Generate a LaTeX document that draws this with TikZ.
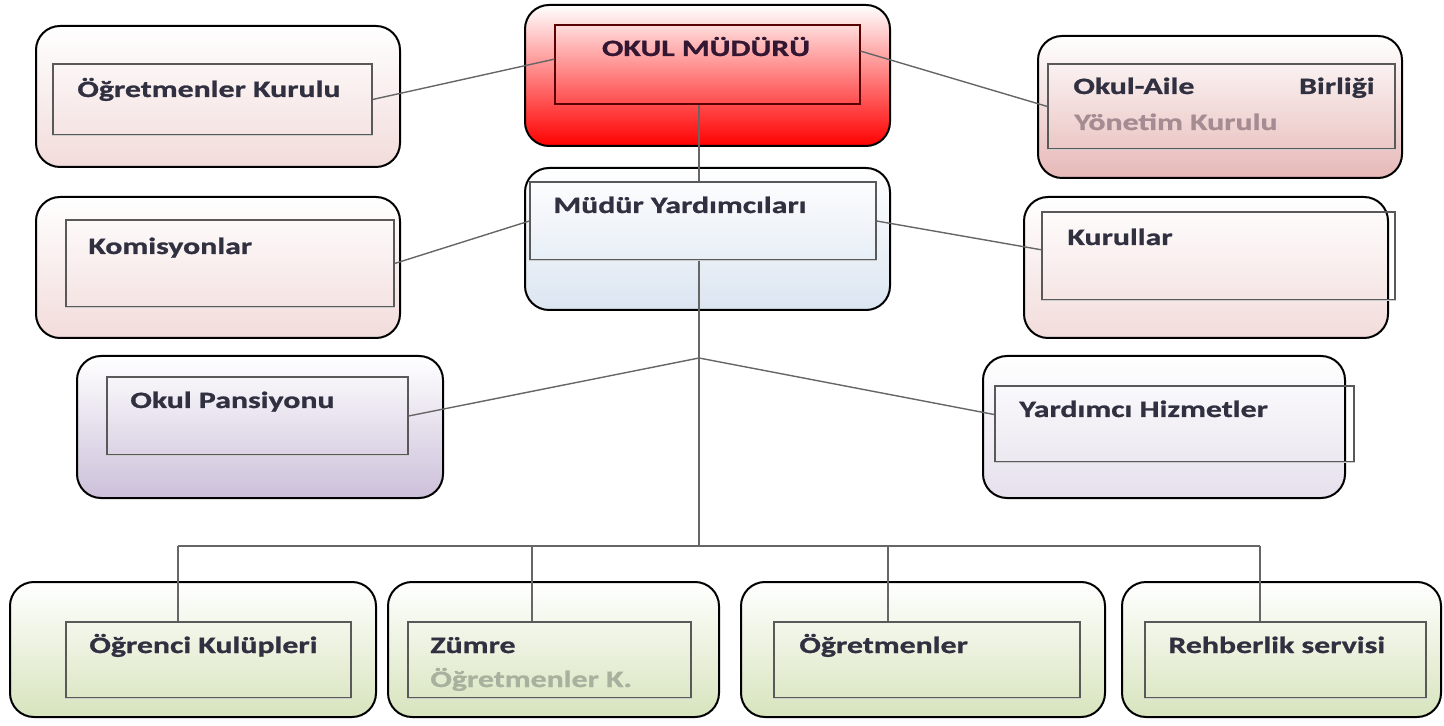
\documentclass[tikz,border=0pt]{standalone}
\usepackage{fontspec}
\newfontfamily\boxfont{Carlito}[FakeStretch=1.36,BoldFeatures={FakeBold=1}]
\usepackage{tikz}
\usepackage{xcolor}
\definecolor{txt}{RGB}{48,48,64}
\definecolor{txtred}{RGB}{50,22,50}
\definecolor{grayred}{RGB}{165,140,146}
\definecolor{graygreen}{RGB}{168,176,158}
\definecolor{pinkb}{RGB}{242,220,219}
\definecolor{roseb}{RGB}{230,185,184}
\definecolor{blueb}{RGB}{219,229,241}
\definecolor{purpb}{RGB}{204,192,218}
\definecolor{lilab}{RGB}{229,224,236}
\definecolor{greenb}{RGB}{215,228,189}

\tikzset{
	outbox/.style={draw=black,line width=1pt,rounded corners=12pt,inner sep=0pt,top color=white},
	inbox/.style={draw=black!65,line width=0.6pt,inner sep=0pt},
	lab/.style={inner sep=0pt,anchor=base west,text=txt,font=\boxfont\bfseries\fontsize{11.7}{14}\selectfont},
	conn/.style={draw=black!60,line width=0.7pt}
}

\begin{document}
\begin{tikzpicture}[x=0.5pt,y=-0.5pt]
		
		\useasboundingbox (0,0) rectangle (1444,726);
		
		% top row
		\node[outbox,bottom color=pinkb,minimum width=182pt,minimum height=70.5pt] (ogk) at (218,96.5) {};
		\node[inbox,minimum width=159.5pt,minimum height=35.5pt] (ogk-in) at (212.5,99.5) {};
		\node[lab] (ogktxt) at (77,97) {Öğretmenler Kurulu};
		
		\node[outbox,bottom color=red,middle color=red!50,minimum width=182.5pt,minimum height=70.5pt] (mud) at (707.5,75.5) {};
		\node[inbox,draw=red!35!black,minimum width=152.5pt,minimum height=39.5pt] (mud-in) at (707.5,64.5) {};
		\node[lab,anchor=base,text=txtred] (mudtxt) at (706,56) {OKUL MÜDÜRÜ};
		
		\node[outbox,bottom color=roseb,minimum width=182pt,minimum height=71pt] (oab) at (1220,107) {};
		\node[inbox,minimum width=173.5pt,minimum height=42.5pt] (oab-in) at (1221.5,106.5) {};
		\node[lab] (oabtxt) at (1073,94) {Okul-Aile};
		\node[lab,anchor=base east] (birtxt) at (1375,94) {Birliği};
		\node[lab,text=grayred] (yktxt) at (1074,130) {Yönetim Kurulu};
		
		% second row
		\node[outbox,bottom color=pinkb,minimum width=182pt,minimum height=70.5pt] (kom) at (218,267.5) {};
		\node[inbox,minimum width=164pt,minimum height=43.5pt] (kom-in) at (230,263.5) {};
		\node[lab] (komtxt) at (88,254) {Komisyonlar};
		
		\node[outbox,bottom color=blueb,minimum width=182.5pt,minimum height=71pt] (my) at (707.5,239) {};
		\node[inbox,minimum width=173pt,minimum height=39pt] (my-in) at (703,221) {};
		\node[lab] (mytxt) at (553,213) {Müdür Yardımcıları};
		
		\node[outbox,bottom color=pinkb,minimum width=182pt,minimum height=70.5pt] (kur) at (1206,267.5) {};
		\node[inbox,minimum width=176.5pt,minimum height=44pt] (kur-in) at (1218.5,256) {};
		\node[lab] (kurtxt) at (1067,245) {Kurullar};
		
		% third row
		\node[outbox,bottom color=purpb,minimum width=183pt,minimum height=71pt] (pan) at (260,427) {};
		\node[inbox,minimum width=150.5pt,minimum height=39pt] (pan-in) at (257.5,416) {};
		\node[lab] (pantxt) at (130,408) {Okul Pansiyonu};
		
		\node[outbox,bottom color=lilab,minimum width=181pt,minimum height=71pt] (yh) at (1164,427) {};
		\node[inbox,minimum width=179.5pt,minimum height=38pt] (yh-in) at (1174.5,424) {};
		\node[lab] (yhtxt) at (1019,417) {Yardımcı Hizmetler};
		
		% bottom row
		\foreach \n/\ox/\ow/\ix/\iw/\tx/\lbl in {okl/193/183/208.5/142.5/89/Öğrenci Kulüpleri,zum/553.5/165.5/549.5/141.5/430/Zümre,ogr/923/182/927/153/799/Öğretmenler,reh/1281.5/159.5/1285.5/140.5/1168/Rehberlik servisi}
		{
		\node[outbox,bottom color=greenb,minimum width=\ow pt,minimum height=67.5pt] (\n) at (\ox,649.5) {};
		\node[inbox,minimum width=\iw pt,minimum height=38pt] (\n-in) at (\ix,660) {};
		\node[lab] (\n txt) at (\tx,653) {\lbl};
		}
		\node[lab,text=graygreen] (zumsub) at (430,687) {Öğretmenler K.};
		
		% lighter lower edges
		\foreach \b in {ogk,oab,kom,my,kur,pan,yh,okl,zum,ogr,reh}
		\draw[black!20,line width=0.6pt] (\b-in.south west) -- (\b-in.south east);
		
		% connectors
		\coordinate (jn)  at (699,358);
		\coordinate (bus) at (699,546);
		\coordinate (d1) at (178,546);
		\coordinate (d2) at (532,546);
		\coordinate (d3) at (888,546);
		\coordinate (d4) at (1260,546);
		
		\draw[conn] (ogk-in.east) -- (mud-in.178);
		\draw[conn] (mud-in.5) -- (oab-in.west);
		\draw[conn] (kom-in.east) -- (my-in.west);
		\draw[conn] (my-in.east) -- (kur-in.178);
		\draw[conn] (mud-in.south -| jn) -- (my-in.north -| jn);
		\draw[conn] (my-in.south -| jn) -- (bus);
		\draw[conn] (jn) -- (pan-in.east);
		\draw[conn] (jn) -- (yh-in.177);
		\draw[conn] (d1) -- (d4);
		\foreach \d/\b in {d1/okl,d2/zum,d3/ogr,d4/reh}
		\draw[conn] (\d) -- (\d |- \b-in.north);
		
\end{tikzpicture}
\end{document}
